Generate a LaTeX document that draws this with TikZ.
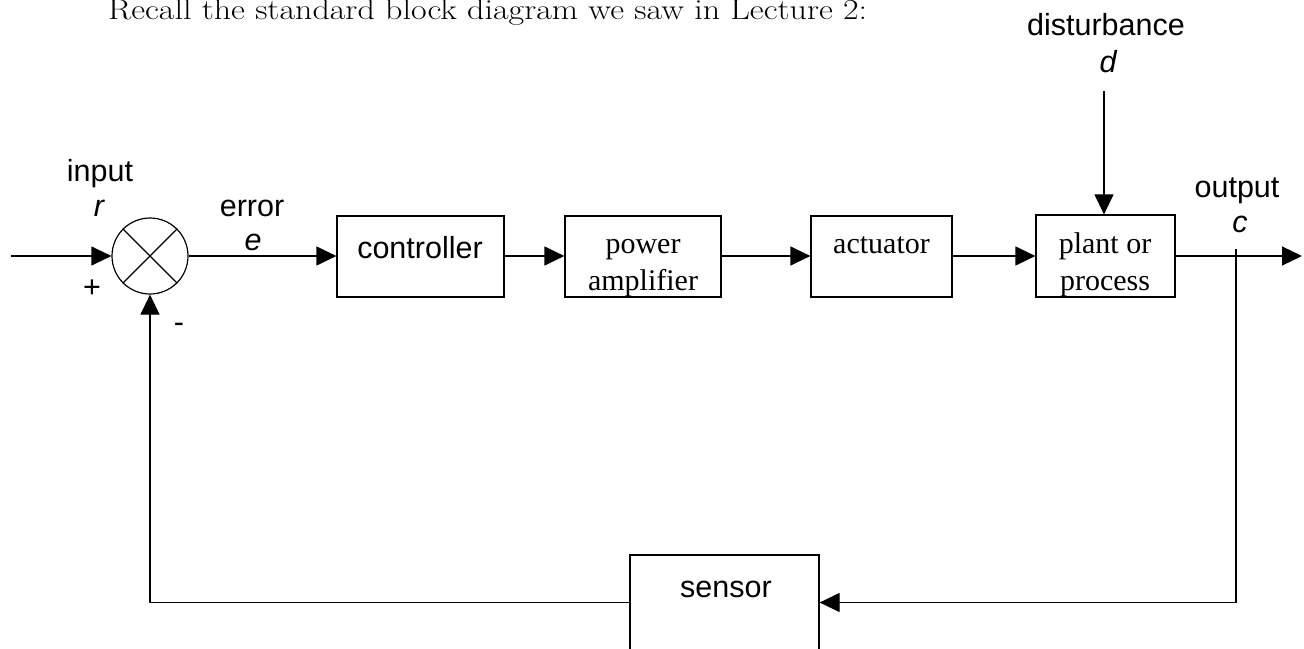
\documentclass[tikz,border=0pt]{standalone}
\usepackage{fontspec}
\newfontfamily\arialf{Liberation Sans}
\newfontfamily\timesf{Liberation Serif}
\usetikzlibrary{arrows.meta}
\tikzset{
  blk/.style={draw, line width=1.2pt, inner sep=0pt},
  sansl/.style={font=\arialf\fontsize{30.5}{36}\selectfont, inner sep=0pt, anchor=base},
  serifl/.style={font=\timesf\fontsize{30}{36}\selectfont, inner sep=0pt, anchor=base},
  conn/.style={line width=1.2pt},
  arr/.style={line width=1.2pt, -{Triangle[length=20pt,width=19pt]}},
}
\begin{document}
\begin{tikzpicture}[x=1pt,y=-1pt]
\useasboundingbox (0,0) rectangle (1304,648);
% title
\node[inner sep=0pt, anchor=base west] (title) at (108,19) {\resizebox{759pt}{\height}{\fontsize{29}{34}\selectfont Recall the standard block diagram we saw in Lecture 2:}};
% summing junction
\node[draw, circle, line width=1.2pt, minimum size=76pt, inner sep=0pt] (sum) at (150,256) {};
\draw[conn] (sum.north west) -- (sum.south east);
\draw[conn] (sum.north east) -- (sum.south west);
% blocks
\node[blk, minimum width=167pt, minimum height=81pt] (ctrl) at (420.5,256.5) {};
\node[blk, minimum width=156pt, minimum height=81pt] (amp) at (643,256.5) {};
\node[blk, minimum width=141pt, minimum height=81pt] (act) at (881.5,256.5) {};
\node[blk, minimum width=139pt, minimum height=82pt] (plant) at (1105.5,256) {};
\node[blk, minimum width=189pt, minimum height=95pt] (sensor) at (724.5,602.5) {};
% block texts
\node[sansl] (tctrl) at (420,258) {controller};
\node[serifl] (tamp1) at (643,253) {power};
\node[serifl] (tamp2) at (643,290) {amplifier};
\node[serifl] (tact) at (881.5,253) {actuator};
\node[serifl] (tpl1) at (1105,253) {plant or};
\node[serifl] (tpl2) at (1105,290) {process};
\node[sansl] (tsen) at (726,597) {sensor};
% signal labels
\node[sansl] (tin) at (100,181) {input};
\node[sansl] (tr) at (99,216) {\itshape r};
\node[sansl] (terr) at (252,216) {error};
\node[sansl] (te) at (253,250) {\itshape e};
\node[sansl] (tplus) at (92,297) {+};
\node[sansl] (tminus) at (179,332) {-};
\node[sansl] (tdist) at (1106,35) {disturbance};
\node[sansl] (td) at (1108,72) {\itshape d};
\node[sansl] (tout) at (1237,197) {output};
\node[sansl] (tc) at (1240,232) {\itshape c};
% coordinates
\coordinate (inl) at (11,256);
\coordinate (outr) at (1302,256);
\coordinate (tap) at (1236,249);
\coordinate (dtop) at (1104,91);
% connectors
\draw[arr] (inl) -- (sum.west);
\draw[arr] (sum.east) -- (ctrl.west |- sum.east);
\draw[arr] (ctrl.east |- sum.east) -- (amp.west |- sum.east);
\draw[arr] (amp.east |- sum.east) -- (act.west |- sum.east);
\draw[arr] (act.east |- sum.east) -- (plant.west |- sum.east);
\draw[arr] (plant.east |- sum.east) -- (outr);
\draw[arr] (dtop) -- (dtop |- plant.north);
\draw[arr] (tap) |- (sensor.east);
\draw[arr] (sensor.west) -| (sum.south);
\end{tikzpicture}
\end{document}
